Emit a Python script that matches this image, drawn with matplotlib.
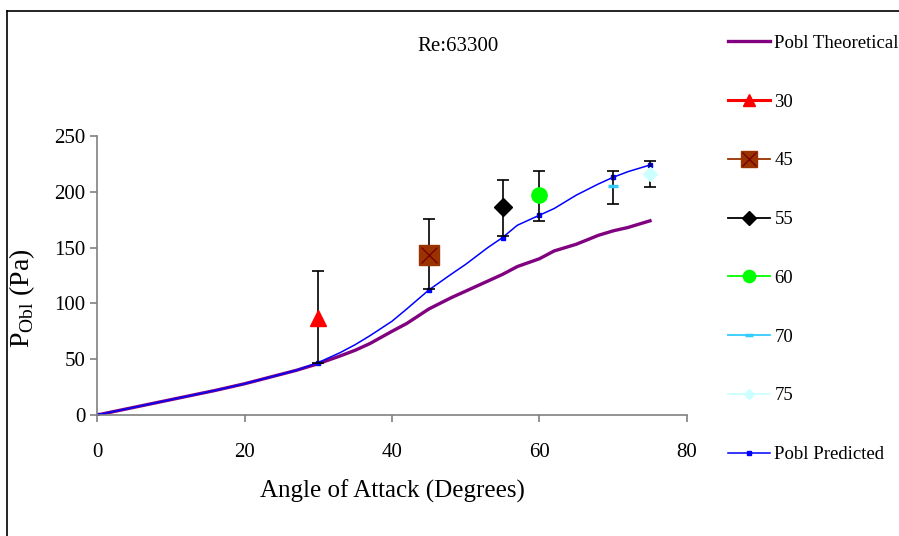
"""
Pobl vs angle of attack at Re 63300: theoretical, predicted and measured points with error bars.
"""

import matplotlib.pyplot as plt
from matplotlib.lines import Line2D

#---------------------------------------
# Data
#---------------------------------------
angle_curve = [0, 8, 16, 20, 27, 30, 33, 35, 37, 40, 42, 45, 48, 50, 53, 55, 57, 60, 62, 65, 68, 70, 72, 75]
pobl_theoretical = [0, 11, 22, 28, 40, 46, 53, 58, 64, 75, 82, 95, 105, 111, 120, 126, 133, 140, 147, 153, 161, 165, 168, 174]
pobl_predicted = [0, 11, 22, 28, 40, 47, 56, 63, 71, 84, 95, 112, 126, 135, 150, 159, 170, 179, 185, 197, 207, 213, 218, 224]
predicted_marks = [0, 5, 11, 15, 17, 21, 23]  # indices with a marker

meas_angles = [30, 45, 55, 60, 70, 75]
meas_values = [87, 143.5, 186, 197, 205, 216]
meas_upper = [129, 176, 211, 219, 219, 228]
meas_lower = [47, 113, 160, 174, 189, 204]

plt.rcParams['font.family'] = 'Liberation Serif'

fig = plt.figure(figsize=(8.99, 5.36), dpi=100)
ax = fig.add_axes([0.108, 0.2257, 0.656, 0.5206])

# Theoretical and predicted curves
h_theo, = ax.plot(angle_curve, pobl_theoretical, color='#800080', linewidth=2.4, label='Pobl Theoretical')
h_pred, = ax.plot(angle_curve, pobl_predicted, color='#0000FF', linewidth=1.1, marker='s',
                  markersize=3, markevery=predicted_marks, label='Pobl Predicted')

# Error bars
for a, v, up, lo in zip(meas_angles, meas_values, meas_upper, meas_lower):
    ax.errorbar([a], [v], yerr=[[v - lo], [up - v]], fmt='none', ecolor='black',
                elinewidth=1.2, capsize=4.5, capthick=1.2, zorder=3)

# Measured points
styles = [
    dict(marker='^', color='#FF0000', ms=11, mec='#FF0000'),
    dict(marker='s', color='#993300', ms=14, mec='#993300'),
    dict(marker='D', color='#000000', ms=9, mec='#000000'),
    dict(marker='o', color='#00FF00', ms=11, mec='#00FF00'),
    dict(marker='_', color='#33CCFF', ms=7, mec='#33CCFF'),
    dict(marker='D', color='#CCFFFF', ms=7, mec='#CCFFFF'),
]
handles = []
for a, v, st in zip(meas_angles, meas_values, styles):
    ax.plot([a], [v], linestyle='none', marker=st['marker'], markersize=st['ms'],
            color=st['color'], markeredgecolor=st['mec'], markeredgewidth=2.5 if st['marker'] == '_' else 1, zorder=4)
    handles.append(Line2D([], [], color=st['color'], linewidth=2.2 if st['marker'] == '^' else 1.3,
                          marker=st['marker'], markersize=st['ms'] * 0.8,
                          markeredgecolor=st['mec'], markeredgewidth=2.5 if st['marker'] == '_' else 1))
# X on the 45 square
ax.plot([45], [143.5], linestyle='none', marker='x', markersize=11, color='#7a0000', markeredgewidth=1, zorder=5)
cross = Line2D([], [], linestyle='none', marker='x', markersize=10, color='#7a0000', markeredgewidth=1)

ax.set_xlim(0, 80)
ax.set_ylim(0, 250)
ax.set_xticks([0, 20, 40, 60, 80])
ax.set_yticks([0, 50, 100, 150, 200, 250])
ax.tick_params(axis='both', labelsize=15, color='#808080', length=5, width=1.2)
ax.tick_params(axis='x', pad=15)
for s in ['top', 'right']:
    ax.spines[s].set_visible(False)
for s in ['left', 'bottom']:
    ax.spines[s].set_color('#808080')
    ax.spines[s].set_linewidth(1.2)

ax.set_xlabel('Angle of Attack (Degrees)', fontsize=18, labelpad=13)
ax.set_ylabel(r'P$_{\mathregular{Obl}}$ (Pa)', fontsize=20, labelpad=0)
ax.yaxis.set_label_coords(-0.102, 0.42)

fig.text(0.509, 0.913, 'Re:63300', fontsize=15, ha='center', va='center')

# Legend
leg_handles = [h_theo] + handles[:1] + [(handles[1], cross)] + handles[2:] + [h_pred]
leg_labels = ['Pobl Theoretical', '30', '45', '55', '60', '70', '75', 'Pobl Predicted']
fig.legend(leg_handles, leg_labels, loc='upper left', bbox_to_anchor=(0.802, 0.949),
           frameon=False, fontsize=13.5, handlelength=2.2, handletextpad=0.25,
           labelspacing=2.22, borderaxespad=0)

# Outer frame (left and top)
fig.add_artist(Line2D([0.0078, 0.0078], [0, 0.9795], color='black', linewidth=1.2, transform=fig.transFigure))
fig.add_artist(Line2D([0.0078, 1.0], [0.9795, 0.9795], color='black', linewidth=1.2, transform=fig.transFigure))

plt.savefig('out.png', dpi=100)
